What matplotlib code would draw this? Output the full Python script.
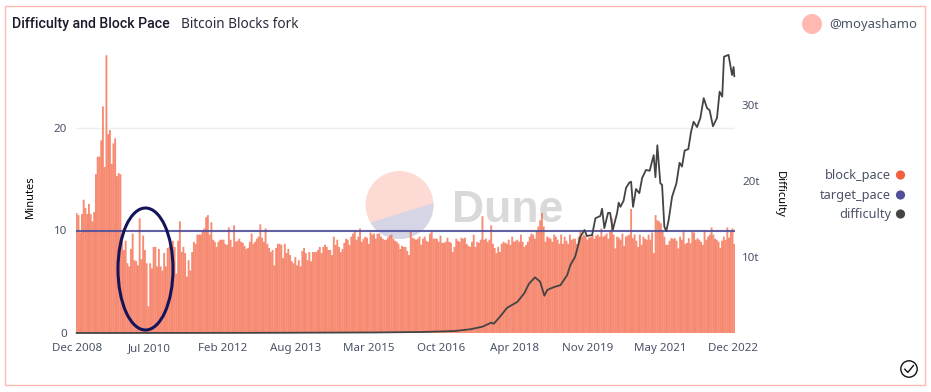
"""Difficulty and block pace chart, Dune style card."""

import matplotlib

matplotlib.use("Agg")
import matplotlib.pyplot as plt
import numpy as np
from matplotlib.patches import Circle, Ellipse, Polygon, Rectangle

plt.rcParams["font.family"] = ["Noto Sans", "DejaVu Sans"]

# block pace in minutes, one value per bar, left to right
block_pace = [
    11.7, 11.5, 9.8, 11.6, 13.0, 12.2, 11.6, 12.6, 11.6, 10.9,
    11.8, 15.5, 17.2, 17.2, 18.8, 22.1, 16.2, 27.1, 19.4, 19.8,
    16.5, 18.5, 19.0, 15.3, 15.6, 15.5, 9.5, 8.1, 9.0, 6.8,
    6.5, 8.2, 9.7, 7.1, 7.0, 6.6, 11.2, 7.2, 9.5, 8.1,
    6.8, 2.6, 6.8, 6.3, 8.4, 8.4, 6.5, 8.2, 6.5, 6.1,
    7.8, 6.5, 8.3, 8.4, 8.6, 9.0, 8.4, 5.8, 9.0, 10.9,
    7.9, 8.4, 7.8, 5.5, 7.1, 6.1, 7.9, 8.9, 8.7, 9.6,
    9.6, 9.6, 9.9, 10.2, 11.3, 11.5, 9.6, 10.8, 9.1, 8.9,
    8.4, 8.9, 9.1, 9.1, 9.1, 8.7, 8.6, 10.3, 9.1, 8.4,
    10.5, 8.9, 9.0, 9.2, 8.9, 8.8, 8.5, 8.2, 8.3, 8.9,
    9.7, 8.7, 8.9, 9.2, 9.4, 10.6, 9.3, 8.9, 10.2, 8.7,
    8.3, 7.9, 8.1, 6.6, 8.3, 8.7, 8.7, 8.6, 7.3, 8.7,
    7.8, 8.2, 7.6, 7.0, 6.8, 7.4, 6.6, 7.1, 6.5, 8.0,
    8.3, 7.8, 7.1, 7.9, 7.0, 7.9, 7.9, 7.9, 8.1, 8.4,
    7.8, 8.4, 8.6, 8.4, 8.1, 8.1, 7.6, 9.4, 8.6, 9.1,
    8.4, 7.9, 8.2, 8.8, 9.2, 9.1, 8.6, 9.4, 9.7, 10.0,
    9.1, 9.4, 10.2, 8.9, 9.2, 9.4, 9.3, 8.7, 9.8, 9.6,
    9.7, 9.2, 9.7, 9.7, 9.4, 9.2, 9.1, 9.1, 9.3, 9.5,
    9.6, 9.2, 9.0, 8.9, 8.7, 8.2, 8.5, 8.4, 8.4, 8.0,
    7.6, 9.9, 9.3, 9.2, 9.1, 9.2, 9.4, 8.6, 9.2, 9.4,
    9.0, 8.9, 9.7, 9.9, 9.2, 9.2, 9.2, 8.9, 9.5, 8.8,
    8.8, 8.9, 9.3, 8.9, 8.8, 7.9, 8.4, 9.2, 9.0, 8.9,
    9.3, 9.2, 9.3, 8.7, 8.5, 8.4, 8.9, 9.6, 8.4, 8.9,
    8.8, 9.1, 11.4, 9.1, 9.2, 8.9, 9.1, 10.5, 8.7, 8.3,
    7.8, 8.4, 7.9, 8.7, 8.9, 8.8, 8.7, 9.1, 8.6, 9.4,
    8.9, 9.0, 9.1, 8.9, 9.6, 8.9, 8.4, 8.6, 8.9, 9.4,
    9.7, 9.6, 9.2, 10.0, 10.4, 11.0, 11.7, 10.4, 8.9, 9.4,
    9.3, 9.2, 8.9, 9.6, 9.4, 9.1, 8.7, 9.6, 8.7, 9.4,
    9.0, 8.7, 9.6, 9.1, 9.2, 9.2, 8.7, 9.4, 9.9, 9.4,
    9.6, 9.5, 9.1, 9.3, 9.4, 9.6, 9.2, 9.5, 9.6, 9.4,
    10.2, 9.4, 9.5, 9.7, 9.2, 10.0, 11.2, 9.6, 8.25, 9.4,
    9.3, 9.1, 9.7, 8.5, 9.4, 9.5, 9.6, 12.1, 9.25, 9.6,
    9.0, 8.4, 9.6, 8.6, 9.4, 9.2, 9.1, 9.6, 9.1, 9.8,
    7.8, 11.5, 11.0, 10.9, 10.7, 10.0, 9.4, 8.6, 8.6, 9.0,
    9.25, 9.2, 9.25, 9.0, 8.25, 9.4, 9.1, 10.0, 8.7, 8.8,
    9.25, 8.75, 9.9, 9.8, 9.1, 9.25, 9.1, 8.9, 8.6, 10.0,
    9.1, 9.4, 9.6, 10.3, 9.6, 9.2, 9.1, 8.9, 8.3, 9.0,
    9.4, 9.1, 10.3, 9.3, 9.9, 10.2, 8.7,
]

# difficulty in trillions, read at the bar numbers in difficulty_bar
difficulty_bar = [
    0, 100, 170, 197, 216, 225, 232, 237, 238.5, 242, 246, 252, 256, 258.5,
    262, 265, 267.4, 269, 273, 276.6, 280.4, 282.3, 285, 288, 290.3, 291.8,
    294.7, 296.6, 299.4, 300.4, 301.7, 303.8, 305, 306.5, 309, 309.9, 310.9,
    312.7, 314.1, 316, 317, 318.1, 319.8, 321.7, 323.3, 325.5, 327.6, 329.9,
    330.9, 332, 333.7, 334.7, 336, 337.1, 338.5, 340.4, 342.9, 344.7, 346.1,
    347.6, 349.7, 351.3, 352.7, 354.7, 356.6, 358.5, 360.4, 361.9, 363.8,
    366.1, 367.6, 369.1, 370.1, 372.7, 374.7, 375.6, 376,
]
difficulty = [
    0, 0.02, 0.07, 0.13, 0.26, 0.49, 0.83, 1.36, 1.22, 2.14, 3.3, 4.1, 5.26, 6.45,
    7.33, 6.75, 4.9, 5.66, 6.05, 6.3, 7.6, 8.95, 10.04, 12.67, 13.55, 12.76,
    12.9, 15.1, 15.4, 16.35, 13.8, 15.8, 15.8, 13.55, 15.8, 17.15, 16.6,
    17.4, 19.1, 19.8, 19.9, 16.6, 18.95, 18.4, 20.4, 21.45, 21.35, 23.4,
    20.5, 24.7, 19.7, 19.5, 14.0, 13.4, 14.9, 17.9, 19.7, 22.4, 21.9,
    24.0, 24.2, 26.5, 27.8, 27.1, 28.3, 30.9, 29.6, 29.3, 27.2,
    28.3, 31.75, 31.1, 36.35, 36.6, 33.95, 35.0, 33.8,
]

target_value = 10

date_labels = [
    "Dec 2008", "Jul 2010", "Feb 2012", "Aug 2013", "Mar 2015",
    "Oct 2016", "Apr 2018", "Nov 2019", "May 2021", "Dec 2022",
]
date_label_bars = [0, 41.7, 83.4, 125.1, 166.8, 208.5, 250.2, 291.9, 333.6, 375]
minute_ticks = [0, 10, 20]
difficulty_ticks = [10, 20, 30]
legend_names = ["block_pace", "target_pace", "difficulty"]

ORANGE = "#F4603E"
BLUE = "#50509A"
DARK = "#444444"
PINK = "#FFB9B1"
SLATE = "#4A5266"

W, H = 931, 392
fig = plt.figure(figsize=(W / 100, H / 100), dpi=100, facecolor="white")

# pixel canvases behind and in front of the chart
bg = fig.add_axes([0, 0, 1, 1], zorder=0)
fg = fig.add_axes([0, 0, 1, 1], zorder=3)
for canvas in (bg, fg):
    canvas.set_xlim(0, W)
    canvas.set_ylim(H, 0)
    canvas.axis("off")
    canvas.patch.set_alpha(0)

bg.add_patch(Rectangle((4.5, 5.5), 920.5, 379, fill=False, ec=PINK, lw=1))

# watermark
bg.add_patch(Circle((399.5, 205), 34, fc="#FDDAD3", ec="none"))
wedge = Circle((399.5, 205), 34, fc="#D5D5E5", ec="none")
bg.add_patch(wedge)
wedge.set_clip_path(Polygon([(360, 226), (440, 201), (440, 245), (360, 245)], transform=bg.transData))
bg.text(452, 222, "Dune", fontsize=32, family="Liberation Sans", fontweight="bold", color="#D9D9D9", va="baseline", ha="left")

# chart
top_px, bottom_px, left_px, right_px = 53, 333, 76, 735
ax = fig.add_axes(
    [left_px / W, (H - bottom_px) / H, (right_px - left_px) / W, (bottom_px - top_px) / H],
    zorder=1,
)
ax.patch.set_alpha(0)
bars = np.arange(len(block_pace))
ax.bar(bars, block_pace, width=1.08, color=ORANGE, alpha=0.72, linewidth=0, snap=False)
ax.plot(bars, [target_value] * len(bars), color=BLUE, lw=1.5, alpha=0.9)
ax.set_xlim(-0.4, len(block_pace) - 0.6)
ax.set_ylim(0, (bottom_px - top_px) / 10.25)
ax.axhline(20, color="#EEEEEE", lw=1, zorder=0)
ax.set_yticks(minute_ticks)
ax.set_xticks(date_label_bars)
ax.set_xticklabels(date_labels)
ax.tick_params(axis="both", length=0, labelsize=8.3, labelcolor=SLATE)
ax.tick_params(axis="y", pad=6.5)
ax.tick_params(axis="x", pad=7)
for spine in ax.spines.values():
    spine.set_visible(False)

ax2 = ax.twinx()
ax2.set_zorder(2)
ax2.patch.set_alpha(0)
ax2.plot(difficulty_bar, difficulty, color=DARK, lw=1.3, clip_on=False)
ax2.set_ylim(0, (bottom_px - top_px) / 7.6)
ax2.set_yticks(difficulty_ticks)
ax2.set_yticklabels([f"{t}t" for t in difficulty_ticks])
ax2.tick_params(axis="y", length=0, labelsize=8.3, labelcolor=SLATE, pad=5)
for spine in ax2.spines.values():
    spine.set_visible(False)

# hand-drawn annotation
fg.add_patch(Ellipse((145.5, 269), 55, 122, fill=False, ec="#14145A", lw=2.2))

# titles
fg.text(12, 24, "Difficulty and Block Pace", fontsize=10.2, family="Roboto", fontweight="medium", color="#1A1A2A", va="center")
fg.text(181, 24, "Bitcoin Blocks fork", fontsize=9.8, color="#2A2A3A", va="center")
fg.add_patch(Circle((812, 24), 10, fc=PINK, ec="none"))
fg.text(829, 24, "@moyashamo", fontsize=9.4, color=SLATE, va="center")
fg.text(30, 197, "Minutes", fontsize=8, rotation=90, color="black", ha="center", va="center")
fg.text(779, 194, "Difficulty", fontsize=8, rotation=270, color="black", ha="center", va="center")

# legend
for name, colour, y in zip(legend_names, [ORANGE, BLUE, DARK], [175, 195, 214]):
    fg.text(891, y, name, fontsize=9.2, color=SLATE, ha="right", va="center")
    fg.add_patch(Circle((900.5, y), 4.6, fc=colour, ec="none"))

# check mark badge
fg.add_patch(Circle((909, 369), 8.2, fill=False, ec="#111111", lw=1))
fg.plot([904.8, 907.8, 913.4], [369.2, 372.4, 365.6], color="#111111", lw=1)

fig.savefig("out.png", dpi=100)
